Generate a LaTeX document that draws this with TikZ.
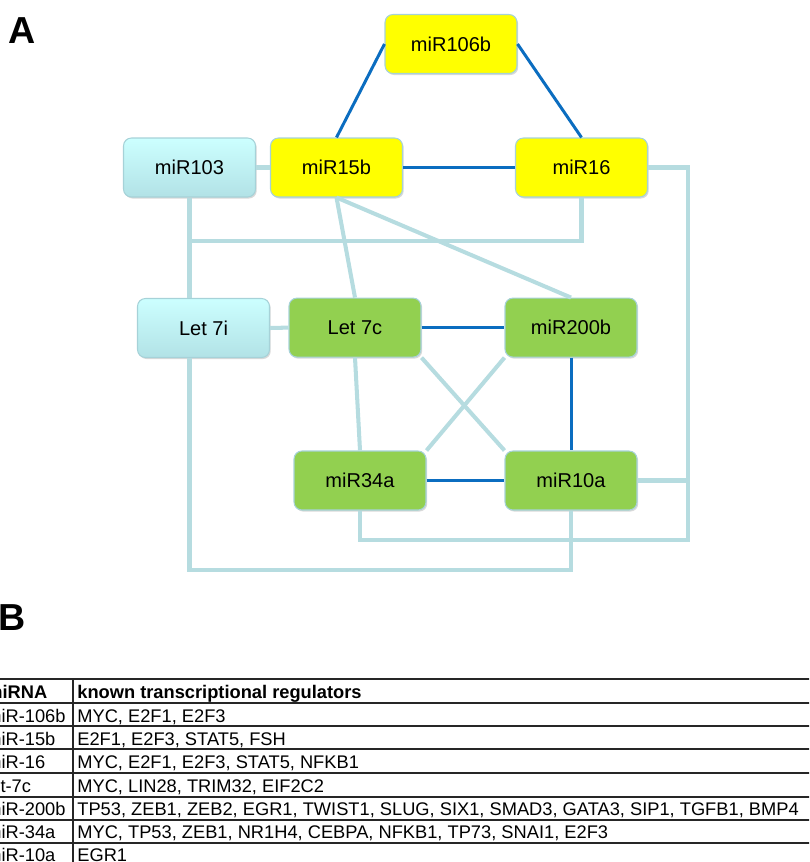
\documentclass[tikz,border=0pt]{standalone}
\usepackage{fontspec}
\setmainfont{Liberation Sans}
\usetikzlibrary{shadows}

\definecolor{mirblue}{HTML}{0B6DC0}
\definecolor{mirlink}{HTML}{B6DCE0}
\definecolor{mirrim}{HTML}{A6D2D8}
\definecolor{miryel}{HTML}{FFFF00}
\definecolor{mirgrn}{HTML}{92D050}
\definecolor{mircyt}{HTML}{CCFFFF}
\definecolor{mircyb}{HTML}{B2E2E6}

\tikzset{
  mirbox/.style={draw=mirrim, line width=0.6pt, rounded corners=4.5pt,
    minimum width=2.64cm, minimum height=1.18cm, inner sep=0pt,
    font=\fontsize{11.4}{13}\selectfont,
    drop shadow={shadow xshift=0.7pt, shadow yshift=-0.9pt, opacity=0.3}},
  yelbox/.style={mirbox, fill=miryel},
  grnbox/.style={mirbox, fill=mirgrn},
  cyabox/.style={mirbox, top color=mircyt, bottom color=mircyb},
  bluelink/.style={draw=mirblue, line width=1.7pt},
  greylink/.style={draw=mirlink, line width=2.3pt},
  tabrule/.style={draw=black!85, line width=0.6pt},
  cell/.style={anchor=base west, inner sep=0pt, font=\fontsize{10.4}{12}\selectfont},
  panel/.style={anchor=base west, inner sep=0pt, font=\fontsize{21.4}{24}\selectfont\bfseries},
}

\begin{document}
\begin{tikzpicture}[x=0.02cm, y=-0.02cm]

          \useasboundingbox (0,0) rectangle (809,862);
          \clip (0,0) rectangle (809,862);

          % panel A
          \node[panel] (labA) at (8,43) {A};

          \node[yelbox] (m106b) at (451,44) {miR106b};
          \node[cyabox] (m103) at (189.5,167.5) {miR103};
          \node[yelbox] (m15b) at (336.5,167.5) {miR15b};
          \node[yelbox] (m16) at (581.5,167.5) {miR16};
          \node[cyabox] (l7i) at (203.5,328) {Let 7i};
          \node[grnbox] (l7c) at (355,327.6) {Let 7c};
          \node[grnbox] (m200b) at (571,327.6) {miR200b};
          \node[grnbox] (m34a) at (360,480.5) {miR34a};
          \node[grnbox] (m10a) at (571,480.5) {miR10a};

          \coordinate (hub) at (189.5,241);
          \coordinate (rail) at (688,540);
          \coordinate (floor) at (189.5,570);

          % light links
          \draw[greylink] (m103.east) -- (m15b.west);
          \draw[greylink] (l7i.east) -- (l7c.west);
          \draw[greylink] (m15b.south) -- (l7c.north);
          \draw[greylink] (m15b.south) -- (m200b.north);
          \draw[greylink] (m103.south) -- (m103.south |- l7i.north);
          \draw[greylink] (m16.south) |- (hub);
          \draw[greylink] (m16.east) -| (rail) -| (m34a.south);
          \draw[greylink] (m10a.east) -- (m10a.east -| rail);
          \draw[greylink] (l7i.south -| hub) -- (floor) -| (m10a.south);
          \draw[greylink] (l7c.south) -- (m34a.north);
          \draw[greylink] (l7c.south east) -- (m10a.north west);
          \draw[greylink] (m200b.south west) -- (m34a.north east);

          % strong links
          \draw[bluelink] (m106b.west) -- (m15b.north);
          \draw[bluelink] (m106b.east) -- (m16.north);
          \draw[bluelink] (m15b.east) -- (m16.west);
          \draw[bluelink] (l7c.east) -- (m200b.west);
          \draw[bluelink] (m200b.south) -- (m10a.north);
          \draw[bluelink] (m34a.east) -- (m10a.west);

          % panel B
          \node[panel] (labB) at (-2,630) {B};

          \draw[tabrule] (-20,679) -- (830,679);
          \draw[tabrule] (-20,703) -- (830,703);
          \draw[tabrule] (-20,726) -- (830,726);
          \draw[tabrule] (-20,749) -- (830,749);
          \draw[tabrule] (-20,773) -- (830,773);
          \draw[tabrule] (-20,797) -- (830,797);
          \draw[tabrule] (-20,820) -- (830,820);
          \draw[tabrule] (-20,843) -- (830,843);
          \draw[tabrule] (-20,866) -- (830,866);
          \draw[tabrule] (73,679) -- (73,870);

          \node[cell,font=\fontsize{10.4}{12}\selectfont\bfseries] (h1) at (-14,698) {miRNA};
          \node[cell,font=\fontsize{10.4}{12}\selectfont\bfseries] (h2) at (77,698) {known transcriptional regulators};

          \node[cell] (r1a) at (-14,722) {miR-106b};
          \node[cell] (r1b) at (77,722) {MYC, E2F1, E2F3};
          \node[cell] (r2a) at (-14,745) {miR-15b};
          \node[cell] (r2b) at (77,745) {E2F1, E2F3, STAT5, FSH};
          \node[cell] (r3a) at (-14,768) {miR-16};
          \node[cell] (r3b) at (77,768) {MYC, E2F1, E2F3, STAT5, NFKB1};
          \node[cell] (r4a) at (-14,792) {let-7c};
          \node[cell] (r4b) at (77,792) {MYC, LIN28, TRIM32, EIF2C2};
          \node[cell] (r5a) at (-14,815) {miR-200b};
          \node[cell] (r5b) at (77,815) {TP53, ZEB1, ZEB2, EGR1, TWIST1, SLUG, SIX1, SMAD3, GATA3, SIP1, TGFB1, BMP4};
          \node[cell] (r6a) at (-14,838) {miR-34a};
          \node[cell] (r6b) at (77,838) {MYC, TP53, ZEB1, NR1H4, CEBPA, NFKB1, TP73, SNAI1, E2F3};
          \node[cell] (r7a) at (-14,861) {miR-10a};
          \node[cell] (r7b) at (77,861) {EGR1};

\end{tikzpicture}
\end{document}
